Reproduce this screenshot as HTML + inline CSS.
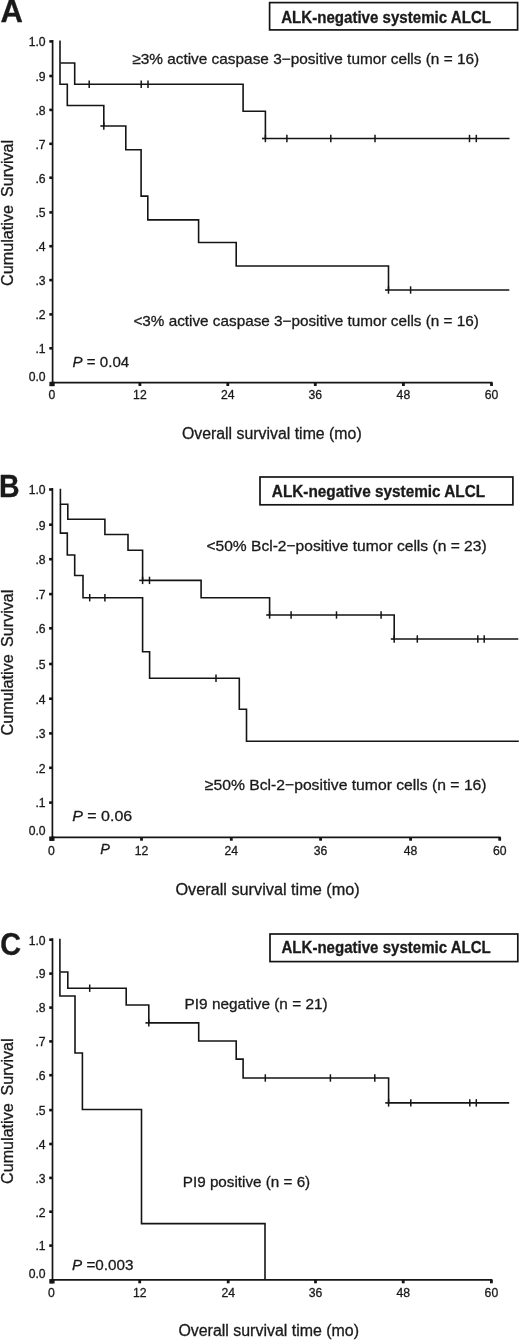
<!DOCTYPE html>
<html><head><meta charset="utf-8"><style>
html,body{margin:0;padding:0;background:#fff;}
svg{display:block;filter:grayscale(100%);}
text{font-family:"Liberation Sans",sans-serif;fill:#1a1a1a;stroke:#1a1a1a;stroke-width:0.3px;}
</style></head><body>
<svg width="520" height="1341" viewBox="0 0 520 1341">
<rect width="520" height="1341" fill="#fff"/>
<path d="M52.6,40.0 V383.6" stroke-width="1.7" fill="none" stroke="#151515"/>
<path d="M51.6,382.6 H492.5" stroke-width="1.7" fill="none" stroke="#151515"/>
<rect x="49.3" y="40.1" width="3.6" height="2.6" fill="#151515"/>
<rect x="49.3" y="74.7" width="3.6" height="2.6" fill="#151515"/>
<rect x="49.3" y="108.6" width="3.6" height="2.6" fill="#151515"/>
<rect x="49.3" y="142.5" width="3.6" height="2.6" fill="#151515"/>
<rect x="49.3" y="176.4" width="3.6" height="2.6" fill="#151515"/>
<rect x="49.3" y="211.1" width="3.6" height="2.6" fill="#151515"/>
<rect x="49.3" y="244.9" width="3.6" height="2.6" fill="#151515"/>
<rect x="49.3" y="278.8" width="3.6" height="2.6" fill="#151515"/>
<rect x="49.3" y="313.1" width="3.6" height="2.6" fill="#151515"/>
<rect x="49.3" y="347.0" width="3.6" height="2.6" fill="#151515"/>
<rect x="49.4" y="381.8" width="5.3" height="4.4" fill="#151515"/>
<rect x="50.6" y="382.6" width="2.8" height="3.4" fill="#151515"/>
<rect x="138.5" y="382.6" width="2.8" height="3.4" fill="#151515"/>
<rect x="226.4" y="382.6" width="2.8" height="3.4" fill="#151515"/>
<rect x="313.9" y="382.6" width="2.8" height="3.4" fill="#151515"/>
<rect x="402.0" y="382.6" width="2.8" height="3.4" fill="#151515"/>
<rect x="490.1" y="382.6" width="2.8" height="3.4" fill="#151515"/>
<text x="45.6" y="46.2" font-size="12.2" text-anchor="end">1.0</text>
<text x="45.6" y="80.8" font-size="12.2" text-anchor="end">.9</text>
<text x="45.6" y="114.7" font-size="12.2" text-anchor="end">.8</text>
<text x="45.6" y="148.6" font-size="12.2" text-anchor="end">.7</text>
<text x="45.6" y="182.5" font-size="12.2" text-anchor="end">.6</text>
<text x="45.6" y="217.2" font-size="12.2" text-anchor="end">.5</text>
<text x="45.6" y="251.0" font-size="12.2" text-anchor="end">.4</text>
<text x="45.6" y="284.9" font-size="12.2" text-anchor="end">.3</text>
<text x="45.6" y="319.2" font-size="12.2" text-anchor="end">.2</text>
<text x="45.6" y="353.1" font-size="12.2" text-anchor="end">.1</text>
<text x="45.6" y="380.6" font-size="12.2" text-anchor="end">0.0</text>
<text x="52.0" y="399.2" font-size="12.2" text-anchor="middle">0</text>
<text x="139.9" y="399.2" font-size="12.2" text-anchor="middle">12</text>
<text x="227.8" y="399.2" font-size="12.2" text-anchor="middle">24</text>
<text x="315.3" y="399.2" font-size="12.2" text-anchor="middle">36</text>
<text x="403.4" y="399.2" font-size="12.2" text-anchor="middle">48</text>
<text x="491.5" y="399.2" font-size="12.2" text-anchor="middle">60</text>
<path d="M60.0,40.6 L60.0,40.6 L60.0,63.0 L74.7,63.0 L74.7,84.2 L243.1,84.2 L243.1,111.2 L265.4,111.2 L265.4,138.5 L509.5,138.5" fill="none" stroke="#151515" stroke-width="1.6" stroke-linejoin="miter" stroke-linecap="butt"/>
<path d="M60.0,63.5 L60.0,63.5 L60.0,84.2 L67.3,84.2 L67.3,105.5 L103.8,105.5 L103.8,126.0 L125.8,126.0 L125.8,149.7 L141.1,149.7 L141.1,196.1 L147.8,196.1 L147.8,219.9 L198.6,219.9 L198.6,242.5 L236.2,242.5 L236.2,266.0 L388.5,266.0 L388.5,290.0 L509.3,290.0" fill="none" stroke="#151515" stroke-width="1.6" stroke-linejoin="miter" stroke-linecap="butt"/>
<g stroke="#151515" stroke-width="1.5" fill="none"><path d="M89.2,80.5 V87.9" /><path d="M141.2,80.5 V87.9" /><path d="M148.0,80.5 V87.9" /><path d="M265.4,134.8 V142.2" /><path d="M286.9,134.8 V142.2" /><path d="M330.8,134.8 V142.2" /><path d="M375.0,134.8 V142.2" /><path d="M469.5,134.8 V142.2" /><path d="M476.3,134.8 V142.2" /><path d="M103.8,122.3 V129.7" /><path d="M388.5,286.3 V293.7" /><path d="M410.6,286.3 V293.7" /><path d="M262.0,138.5 H265.4" stroke-width="1.6"/><path d="M385.1,290.0 H388.5" stroke-width="1.6"/><path d="M100.4,126.0 H103.8" stroke-width="1.6"/></g>
<rect x="269.6" y="2.6" width="248.0" height="27.3" fill="none" stroke="#151515" stroke-width="1.7"/>
<text x="281.2" y="22.6" font-size="15.6" textLength="209.8" lengthAdjust="spacingAndGlyphs" font-weight="bold">ALK-negative systemic ALCL</text>
<text transform="translate(0.6,21.9) scale(1.0,1)" font-size="31" font-weight="bold" stroke="#1a1a1a" stroke-width="0.5">A</text>
<text x="132.2" y="64.2" font-size="15" textLength="347.0" lengthAdjust="spacingAndGlyphs">≥3% active caspase 3−positive tumor cells (n = 16)</text>
<text x="133.4" y="326.0" font-size="15" textLength="345.4" lengthAdjust="spacingAndGlyphs">&lt;3% active caspase 3−positive tumor cells (n = 16)</text>
<text x="72.6" y="366.9" font-size="15" textLength="56.6" lengthAdjust="spacingAndGlyphs"><tspan font-style="italic">P</tspan> = 0.04</text>
<text transform="translate(13.2,196.9) rotate(-90)" font-size="16.5" textLength="56.9" lengthAdjust="spacingAndGlyphs">Survival</text>
<text transform="translate(13.2,285.9) rotate(-90)" font-size="16.5" textLength="80.9" lengthAdjust="spacingAndGlyphs">Cumulative</text>
<text x="181.9" y="439.0" font-size="15.8" textLength="179.8" lengthAdjust="spacingAndGlyphs">Overall survival time (mo)</text>
<path d="M52.4,488.1 V838.3" stroke-width="1.7" fill="none" stroke="#151515"/>
<path d="M51.4,837.3 H500.7" stroke-width="1.7" fill="none" stroke="#151515"/>
<rect x="49.1" y="488.2" width="3.6" height="2.6" fill="#151515"/>
<rect x="49.1" y="523.4" width="3.6" height="2.6" fill="#151515"/>
<rect x="49.1" y="557.9" width="3.6" height="2.6" fill="#151515"/>
<rect x="49.1" y="592.8" width="3.6" height="2.6" fill="#151515"/>
<rect x="49.1" y="627.0" width="3.6" height="2.6" fill="#151515"/>
<rect x="49.1" y="662.7" width="3.6" height="2.6" fill="#151515"/>
<rect x="49.1" y="697.4" width="3.6" height="2.6" fill="#151515"/>
<rect x="49.1" y="732.1" width="3.6" height="2.6" fill="#151515"/>
<rect x="49.1" y="766.5" width="3.6" height="2.6" fill="#151515"/>
<rect x="49.1" y="801.3" width="3.6" height="2.6" fill="#151515"/>
<rect x="49.2" y="836.5" width="5.3" height="4.4" fill="#151515"/>
<rect x="50.1" y="837.3" width="2.8" height="3.4" fill="#151515"/>
<rect x="140.1" y="837.3" width="2.8" height="3.4" fill="#151515"/>
<rect x="229.9" y="837.3" width="2.8" height="3.4" fill="#151515"/>
<rect x="319.2" y="837.3" width="2.8" height="3.4" fill="#151515"/>
<rect x="409.2" y="837.3" width="2.8" height="3.4" fill="#151515"/>
<rect x="498.3" y="837.3" width="2.8" height="3.4" fill="#151515"/>
<text x="45.6" y="494.3" font-size="12.2" text-anchor="end">1.0</text>
<text x="45.6" y="529.5" font-size="12.2" text-anchor="end">.9</text>
<text x="45.6" y="564.0" font-size="12.2" text-anchor="end">.8</text>
<text x="45.6" y="598.9" font-size="12.2" text-anchor="end">.7</text>
<text x="45.6" y="633.1" font-size="12.2" text-anchor="end">.6</text>
<text x="45.6" y="668.8" font-size="12.2" text-anchor="end">.5</text>
<text x="45.6" y="703.5" font-size="12.2" text-anchor="end">.4</text>
<text x="45.6" y="738.2" font-size="12.2" text-anchor="end">.3</text>
<text x="45.6" y="772.6" font-size="12.2" text-anchor="end">.2</text>
<text x="45.6" y="807.4" font-size="12.2" text-anchor="end">.1</text>
<text x="45.6" y="835.0" font-size="12.2" text-anchor="end">0.0</text>
<text x="51.5" y="854.6" font-size="12.2" text-anchor="middle">0</text>
<text x="141.5" y="854.6" font-size="12.2" text-anchor="middle">12</text>
<text x="231.3" y="854.6" font-size="12.2" text-anchor="middle">24</text>
<text x="320.6" y="854.6" font-size="12.2" text-anchor="middle">36</text>
<text x="410.6" y="854.6" font-size="12.2" text-anchor="middle">48</text>
<text x="499.7" y="854.6" font-size="12.2" text-anchor="middle">60</text>
<path d="M60.4,488.8 L60.4,488.8 L60.4,504.2 L67.8,504.2 L67.8,519.2 L104.9,519.2 L104.9,534.5 L128.0,534.5 L128.0,550.3 L142.6,550.3 L142.6,580.4 L201.1,580.4 L201.1,597.7 L269.6,597.7 L269.6,615.0 L394.2,615.0 L394.2,639.0 L518.3,639.0" fill="none" stroke="#151515" stroke-width="1.6" stroke-linejoin="miter" stroke-linecap="butt"/>
<path d="M60.4,504.6 L60.4,504.6 L60.4,533.1 L67.3,533.1 L67.3,555.0 L74.7,555.0 L74.7,575.5 L83.0,575.5 L83.0,597.7 L142.6,597.7 L142.6,651.7 L149.6,651.7 L149.6,678.3 L239.3,678.3 L239.3,709.2 L246.5,709.2 L246.5,741.2 L518.8,741.2" fill="none" stroke="#151515" stroke-width="1.6" stroke-linejoin="miter" stroke-linecap="butt"/>
<g stroke="#151515" stroke-width="1.5" fill="none"><path d="M142.6,576.7 V584.1" /><path d="M149.5,576.7 V584.1" /><path d="M269.6,611.3 V618.7" /><path d="M291.1,611.3 V618.7" /><path d="M336.5,611.3 V618.7" /><path d="M381.1,611.3 V618.7" /><path d="M394.2,635.3 V642.7" /><path d="M417.3,635.3 V642.7" /><path d="M477.8,635.3 V642.7" /><path d="M484.2,635.3 V642.7" /><path d="M89.7,594.0 V601.4" /><path d="M104.9,594.0 V601.4" /><path d="M216.0,674.6 V682.0" /><path d="M139.2,580.4 H142.6" stroke-width="1.6"/><path d="M266.2,615.0 H269.6" stroke-width="1.6"/><path d="M390.8,639.0 H394.2" stroke-width="1.6"/></g>
<rect x="260.0" y="477.0" width="252.9" height="27.8" fill="none" stroke="#151515" stroke-width="1.7"/>
<text x="271.8" y="497.2" font-size="15.6" textLength="213.4" lengthAdjust="spacingAndGlyphs" font-weight="bold">ALK-negative systemic ALCL</text>
<text transform="translate(-0.9,496.6) scale(0.92,1)" font-size="31" font-weight="bold" stroke="#1a1a1a" stroke-width="0.5">B</text>
<text x="206.4" y="551.2" font-size="15.4" textLength="280.2" lengthAdjust="spacingAndGlyphs">&lt;50% Bcl-2−positive tumor cells (n = 23)</text>
<text x="204.8" y="789.6" font-size="15.4" textLength="281.8" lengthAdjust="spacingAndGlyphs">≥50% Bcl-2−positive tumor cells (n = 16)</text>
<text x="72.2" y="820.8" font-size="15" textLength="60.0" lengthAdjust="spacingAndGlyphs"><tspan font-style="italic">P</tspan> = 0.06</text>
<text transform="translate(13.2,646.9) rotate(-90)" font-size="16.5" textLength="57.2" lengthAdjust="spacingAndGlyphs">Survival</text>
<text transform="translate(13.2,735.6) rotate(-90)" font-size="16.5" textLength="81.5" lengthAdjust="spacingAndGlyphs">Cumulative</text>
<text x="175.4" y="895.3" font-size="15.8" textLength="184.4" lengthAdjust="spacingAndGlyphs">Overall survival time (mo)</text>
<path d="M52.5,938.3 V1280.9" stroke-width="1.7" fill="none" stroke="#151515"/>
<path d="M51.5,1279.9 H492.4" stroke-width="1.7" fill="none" stroke="#151515"/>
<rect x="49.2" y="938.4" width="3.6" height="2.6" fill="#151515"/>
<rect x="49.2" y="972.3" width="3.6" height="2.6" fill="#151515"/>
<rect x="49.2" y="1006.3" width="3.6" height="2.6" fill="#151515"/>
<rect x="49.2" y="1040.1" width="3.6" height="2.6" fill="#151515"/>
<rect x="49.2" y="1073.9" width="3.6" height="2.6" fill="#151515"/>
<rect x="49.2" y="1108.8" width="3.6" height="2.6" fill="#151515"/>
<rect x="49.2" y="1142.7" width="3.6" height="2.6" fill="#151515"/>
<rect x="49.2" y="1176.6" width="3.6" height="2.6" fill="#151515"/>
<rect x="49.2" y="1210.4" width="3.6" height="2.6" fill="#151515"/>
<rect x="49.2" y="1244.3" width="3.6" height="2.6" fill="#151515"/>
<rect x="49.3" y="1279.1" width="5.3" height="4.4" fill="#151515"/>
<rect x="50.1" y="1279.9" width="2.8" height="3.4" fill="#151515"/>
<rect x="138.3" y="1279.9" width="2.8" height="3.4" fill="#151515"/>
<rect x="226.8" y="1279.9" width="2.8" height="3.4" fill="#151515"/>
<rect x="314.1" y="1279.9" width="2.8" height="3.4" fill="#151515"/>
<rect x="401.8" y="1279.9" width="2.8" height="3.4" fill="#151515"/>
<rect x="490.0" y="1279.9" width="2.8" height="3.4" fill="#151515"/>
<text x="45.6" y="944.5" font-size="12.2" text-anchor="end">1.0</text>
<text x="45.6" y="978.4" font-size="12.2" text-anchor="end">.9</text>
<text x="45.6" y="1012.4" font-size="12.2" text-anchor="end">.8</text>
<text x="45.6" y="1046.2" font-size="12.2" text-anchor="end">.7</text>
<text x="45.6" y="1080.0" font-size="12.2" text-anchor="end">.6</text>
<text x="45.6" y="1114.9" font-size="12.2" text-anchor="end">.5</text>
<text x="45.6" y="1148.8" font-size="12.2" text-anchor="end">.4</text>
<text x="45.6" y="1182.7" font-size="12.2" text-anchor="end">.3</text>
<text x="45.6" y="1216.5" font-size="12.2" text-anchor="end">.2</text>
<text x="45.6" y="1250.4" font-size="12.2" text-anchor="end">.1</text>
<text x="45.6" y="1277.6" font-size="12.2" text-anchor="end">0.0</text>
<text x="51.5" y="1297.2" font-size="12.2" text-anchor="middle">0</text>
<text x="139.7" y="1297.2" font-size="12.2" text-anchor="middle">12</text>
<text x="228.2" y="1297.2" font-size="12.2" text-anchor="middle">24</text>
<text x="315.5" y="1297.2" font-size="12.2" text-anchor="middle">36</text>
<text x="403.2" y="1297.2" font-size="12.2" text-anchor="middle">48</text>
<text x="491.4" y="1297.2" font-size="12.2" text-anchor="middle">60</text>
<path d="M59.9,938.8 L59.9,938.8 L59.9,972.0 L67.8,972.0 L67.8,988.2 L126.2,988.2 L126.2,1005.0 L148.8,1005.0 L148.8,1022.9 L198.7,1022.9 L198.7,1041.0 L236.2,1041.0 L236.2,1059.1 L243.1,1059.1 L243.1,1078.0 L388.6,1078.0 L388.6,1102.9 L509.2,1102.9" fill="none" stroke="#151515" stroke-width="1.6" stroke-linejoin="miter" stroke-linecap="butt"/>
<path d="M59.9,972.5 L59.9,972.5 L59.9,996.0 L75.0,996.0 L75.0,1053.0 L82.4,1053.0 L82.4,1109.5 L141.5,1109.5 L141.5,1223.6 L265.0,1223.6 L265.0,1279.9" fill="none" stroke="#151515" stroke-width="1.6" stroke-linejoin="miter" stroke-linecap="butt"/>
<g stroke="#151515" stroke-width="1.5" fill="none"><path d="M89.7,984.5 V991.9" /><path d="M148.8,1019.2 V1026.6" /><path d="M265.3,1074.3 V1081.7" /><path d="M330.4,1074.3 V1081.7" /><path d="M374.8,1074.3 V1081.7" /><path d="M388.6,1099.2 V1106.6" /><path d="M410.8,1099.2 V1106.6" /><path d="M469.8,1099.2 V1106.6" /><path d="M476.3,1099.2 V1106.6" /><path d="M145.4,1022.9 H148.8" stroke-width="1.6"/><path d="M385.2,1102.9 H388.6" stroke-width="1.6"/></g>
<rect x="270.0" y="934.0" width="247.8" height="27.6" fill="none" stroke="#151515" stroke-width="1.7"/>
<text x="281.5" y="953.3" font-size="15.6" textLength="209.3" lengthAdjust="spacingAndGlyphs" font-weight="bold">ALK-negative systemic ALCL</text>
<text transform="translate(0.3,954.9) scale(0.93,1)" font-size="31" font-weight="bold" stroke="#1a1a1a" stroke-width="0.5">C</text>
<text x="184.6" y="1009.3" font-size="15" textLength="143.0" lengthAdjust="spacingAndGlyphs">PI9 negative (n = 21)</text>
<text x="182.8" y="1187.3" font-size="15" textLength="127.4" lengthAdjust="spacingAndGlyphs">PI9 positive (n = 6)</text>
<text x="72.0" y="1270.1" font-size="15" textLength="61.4" lengthAdjust="spacingAndGlyphs"><tspan font-style="italic">P</tspan> =0.003</text>
<text transform="translate(13.2,1095.4) rotate(-90)" font-size="16.5" textLength="56.9" lengthAdjust="spacingAndGlyphs">Survival</text>
<text transform="translate(13.2,1183.9) rotate(-90)" font-size="16.5" textLength="80.6" lengthAdjust="spacingAndGlyphs">Cumulative</text>
<text x="178.4" y="1336.4" font-size="15.8" textLength="180.6" lengthAdjust="spacingAndGlyphs">Overall survival time (mo)</text>
<text x="100.2" y="853.8" font-size="14.5" font-style="italic">P</text>
</svg></body></html>
